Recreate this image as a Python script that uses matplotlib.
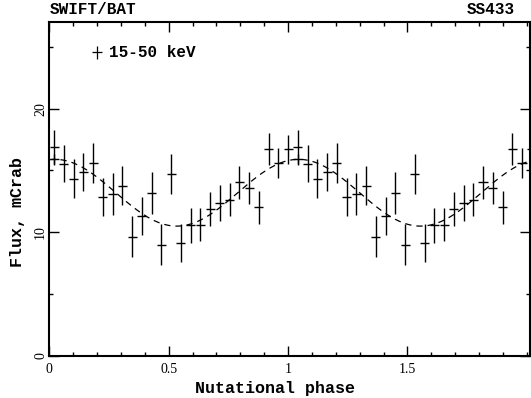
import numpy as np
import matplotlib
matplotlib.use("Agg")
import matplotlib.pyplot as plt
from matplotlib.ticker import FixedLocator, MultipleLocator

# one folded cycle (25 bins), repeated once to the right
phase = [0.0204, 0.0612, 0.1020, 0.1429, 0.1837, 0.2245, 0.2653, 0.3061, 0.3469, 0.3878,
         0.4286, 0.4694, 0.5102, 0.5510, 0.5918, 0.6327, 0.6735, 0.7143, 0.7551, 0.7959,
         0.8367, 0.8776, 0.9184, 0.9592, 1.0000]
flux = [16.86, 15.53, 14.32, 14.88, 15.59, 12.83, 13.13, 13.77, 9.66, 11.34,
        13.18, 8.99, 14.75, 9.17, 10.58, 10.61, 11.88, 12.37, 12.64, 14.04,
        13.59, 12.01, 16.75, 15.61, 16.70]
err = [1.40, 1.50, 1.58, 1.55, 1.62, 1.55, 1.70, 1.60, 1.68, 1.55,
       1.68, 1.66, 1.62, 1.53, 1.42, 1.35, 1.35, 1.42, 1.35, 1.35,
       1.31, 1.35, 1.28, 1.22, 1.20]
# lower mark sitting in the first bin
extra_phase = [0.0204]
extra_flux = [15.94]
extra_err = [0.40]
half_bin = 0.019
cycle = 1.0204

# dashed sine model
model_mean = 13.2
model_amp = 2.7
model_min = 0.534

mono = 'Liberation Mono'
serif = 'Liberation Serif'

fig = plt.figure(figsize=(5.31, 3.98), dpi=100)
ax = fig.add_axes((0.0928, 0.1055, 0.9062, 0.8392))

for shift in (0.0, cycle):
    x = np.array(phase) + shift
    ax.errorbar(x, flux, yerr=err, xerr=half_bin, fmt='none',
                ecolor='black', elinewidth=1.0, capsize=0)
    ax.errorbar(np.array(extra_phase) + shift, extra_flux, yerr=extra_err,
                xerr=half_bin, fmt='none', ecolor='black', elinewidth=1.0, capsize=0)

xm = np.linspace(0, 2.02, 400)
ym = model_mean - model_amp * np.cos(2 * np.pi * (xm - model_min) / cycle)
ax.plot(xm, ym, color='black', lw=0.9, dashes=(5, 4))

ax.set_xlim(0, 2.015)
ax.set_ylim(0, 27)
ax.xaxis.set_major_locator(FixedLocator([0, 0.5, 1, 1.5]))
ax.xaxis.set_minor_locator(MultipleLocator(0.1))
ax.yaxis.set_major_locator(MultipleLocator(10))
ax.yaxis.set_minor_locator(MultipleLocator(5))
ax.set_xticklabels(['0', '0.5', '1', '1.5'], family=serif, fontsize=10)
ax.set_yticks([0, 10, 20])
ax.set_yticklabels(['0', '10', '20'], family=serif, fontsize=10,
                   rotation=90, va='center')
ax.tick_params(which='both', direction='in', top=True, right=True, width=1.0)
ax.tick_params(which='major', length=7)
ax.tick_params(which='minor', length=3.2)
ax.tick_params(axis='x', pad=5)
ax.tick_params(axis='y', pad=1.5)
for s in ax.spines.values():
    s.set_linewidth(1.5)

ax.set_xlabel('Nutational phase', family=mono, fontweight='bold', fontsize=12)
ax.xaxis.set_label_coords(0.47, -0.076)
ax.set_ylabel('Flux, mCrab', family=mono, fontweight='bold', fontsize=12)
ax.yaxis.set_label_coords(-0.05, 0.43)

fig.text(0.0928, 0.975, 'SWIFT/BAT', family=mono, fontweight='bold',
         fontsize=11.5, ha='left', va='center')
fig.text(0.97, 0.975, 'SS433', family=mono, fontweight='bold',
         fontsize=11.5, ha='right', va='center')

ax.errorbar([0.2], [24.55], yerr=0.55, xerr=0.022, fmt='none', ecolor='black',
            elinewidth=0.9, capsize=0)
ax.text(0.25, 24.55, '15-50 keV', family=mono, fontweight='bold', fontsize=11.5,
        ha='left', va='center')

fig.savefig('out.png', dpi=100)
